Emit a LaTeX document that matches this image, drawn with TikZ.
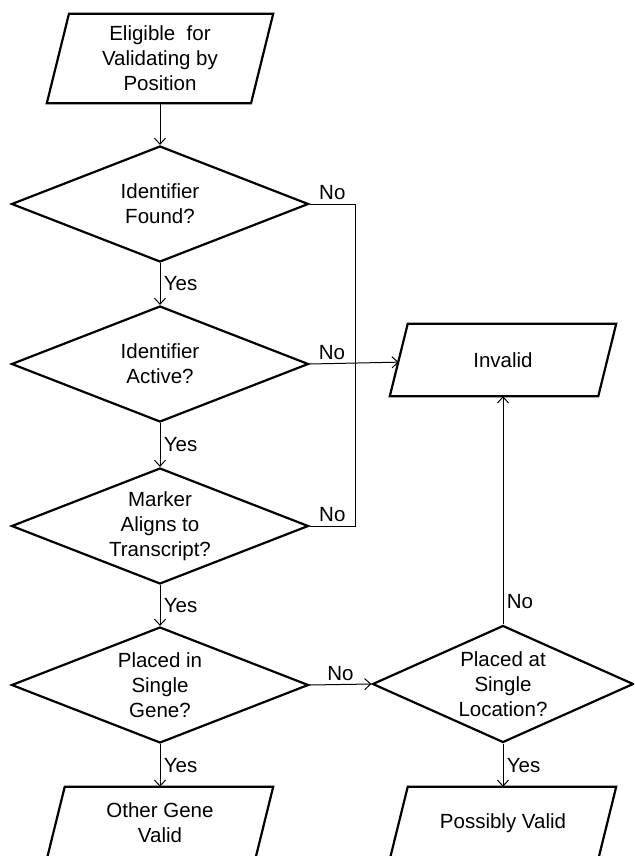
\documentclass[tikz,border=0pt]{standalone}
\usepackage{fontspec}
\setmainfont{Liberation Sans}
\usetikzlibrary{shapes.geometric,arrows.meta,positioning}

\begin{document}
\begin{tikzpicture}[x=1pt, y=-1pt,
  txt/.style = {font=\fontsize{20.5}{25}\selectfont, align=center},
  io/.style = {txt, inner sep=0pt, minimum height=#1pt, minimum width={226pt-0.249*#1pt},
    append after command={\pgfextra{\draw[line width=2.2pt, line join=miter]
      ([xshift={0.1245*#1pt}]\tikzlastnode.north west) -- ([xshift={0.1245*#1pt}]\tikzlastnode.north east)
      -- ([xshift={-0.1245*#1pt}]\tikzlastnode.south east) -- ([xshift={-0.1245*#1pt}]\tikzlastnode.south west) -- cycle;}}},
  test/.style = {txt, draw, line width=2.2pt, diamond, aspect=2.56, minimum width=297pt, minimum height=116pt, inner sep=0pt},
  flow/.style = {line width=1pt, -{Straight Barb[length=6pt,width=11pt]}},
  lbl/.style = {txt}]
  \useasboundingbox (0,0) rectangle (634,856);
  \clip (0,0) rectangle (634,856);
  % left column
  \node[io=89](start) at (160,58.5){Eligible\ \ for\\Validating by\\Position};
  \node[test](found) at (160,204){Identifier\\Found?};
  \node[test](active) at (160,364){Identifier\\Active?};
  \node[test](aligns) at (160,526){Marker\\Aligns to\\Transcript?};
  \node[test](gene) at (160,685){Placed in\\Single\\Gene?};
  \node[io=72](other) at (160,823){Other Gene\\Valid};
  % right column
  \node[io=72](invalid) at (503,360){Invalid};
  \node[test, aspect=2.23, minimum width=261pt, minimum height=117pt](locus) at (503,684){Placed at\\Single\\Location?};
  \node[io=72](possible) at (503,823){Possibly Valid};
  \coordinate (bus) at (355,0);
  % connectors
  \draw[flow] (start) -- (found);
  \draw[flow] (found) -- node[lbl, right]{Yes} (active);
  \draw[flow] (active) -- node[lbl, right]{Yes} (aligns);
  \draw[flow] (aligns) -- node[lbl, right]{Yes} (gene);
  \draw[flow] (gene) -- node[lbl, right]{Yes} (other);
  \draw[line width=1pt] (found.east) -- node[lbl, above]{No} (found.east -| bus) -- (aligns.east -| bus) -- node[lbl, above]{No} (aligns.east);
  \draw[flow] (active.east) -- node[lbl, above, pos=0.25]{No} (invalid);
  \draw[flow] (gene.east) -- node[lbl, above]{No} (locus.west);
  \draw[flow] (locus.north) -- node[lbl, right, pos=0.1]{No} (invalid.south);
  \draw[flow] (locus.south) -- node[lbl, right]{Yes} (possible.north);
\end{tikzpicture}
\end{document}
